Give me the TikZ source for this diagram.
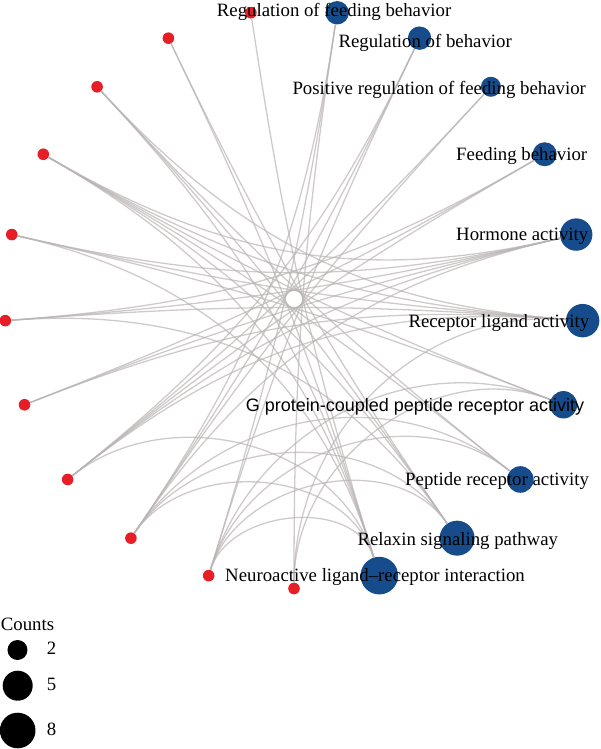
\documentclass[tikz,border=0pt]{standalone}
\usepackage{fontspec}
\setmainfont{Liberation Serif}
\newfontfamily\labelsans{Liberation Sans}
\definecolor{genered}{RGB}{230,30,38}
\definecolor{termblue}{RGB}{22,76,140}
\definecolor{edgegray}{RGB}{185,180,180}

\begin{document}
\begin{tikzpicture}[x=1pt, y=1pt,
  gene/.style={circle, fill=genered, inner sep=0pt, minimum size=11.6pt},
  term/.style={circle, fill=termblue, inner sep=0pt},
  count/.style={circle, fill=black, inner sep=0pt},
  edge/.style={draw=edgegray, line width=1.3pt, draw opacity=0.7},
  lab/.style={anchor=base west, inner sep=0pt, font=\fontsize{18.8}{22}\selectfont}]

\useasboundingbox (-294, -450) rectangle (306, 299);

% genes, on the left half of the circle
\node[gene] (g1) at (98.57:289.5) {};
\node[gene] (g2) at (115.71:289.5) {};
\node[gene] (g3) at (132.86:289.5) {};
\node[gene] (g4) at (150:289.5) {};
\node[gene] (g5) at (167.14:289.5) {};
\node[gene] (g6) at (184.29:289.5) {};
\node[gene] (g7) at (201.43:289.5) {};
\node[gene] (g8) at (218.57:289.5) {};
\node[gene] (g9) at (235.71:289.5) {};
\node[gene] (g10) at (252.86:289.5) {};
\node[gene] (g11) at (270:289.5) {};

% terms, on the right half
\node[term, minimum size=23.4pt] (t1) at (81.43:289.5) {};
\node[term, minimum size=23.4pt] (t2) at (64.29:289.5) {};
\node[term, minimum size=20pt] (t3) at (47.14:289.5) {};
\node[term, minimum size=24pt] (t4) at (30:289.5) {};
\node[term, minimum size=32.4pt] (t5) at (12.86:289.5) {};
\node[term, minimum size=33.4pt] (t6) at (-4.29:289.5) {};
\node[term, minimum size=27.4pt] (t7) at (-21.43:289.5) {};
\node[term, minimum size=26.6pt] (t8) at (-38.57:289.5) {};
\node[term, minimum size=35pt] (t9) at (-55.71:289.5) {};
\node[term, minimum size=37.6pt] (t10) at (-72.86:289.5) {};

% edges
\draw[edge] (g1) to[out=-81.4, in=107.1] (t10);
\draw[edge] (g2) to[out=-64.3, in=107.1] (t10);
\draw[edge] (g2) to[out=-64.3, in=124.3] (t9);
\draw[edge] (g3) to[out=-47.1, in=107.1] (t10);
\draw[edge] (g3) to[out=-47.1, in=124.3] (t9);
\draw[edge] (g3) to[out=-47.1, in=141.4] (t8);
\draw[edge] (g3) to[out=-47.1, in=175.7] (t6);
\draw[edge] (g4) to[out=-30, in=107.1] (t10);
\draw[edge] (g4) to[out=-30, in=124.3] (t9);
\draw[edge] (g4) to[out=-30, in=141.4] (t8);
\draw[edge] (g4) to[out=-30, in=158.6] (t7);
\draw[edge] (g4) to[out=-30, in=175.7] (t6);
\draw[edge] (g4) to[out=-30, in=-167.1] (t5);
\draw[edge] (g5) to[out=-12.9, in=107.1] (t10);
\draw[edge] (g5) to[out=-12.9, in=158.6] (t7);
\draw[edge] (g5) to[out=-12.9, in=175.7] (t6);
\draw[edge] (g5) to[out=-12.9, in=-167.1] (t5);
\draw[edge] (g6) to[out=4.3, in=124.3] (t9);
\draw[edge] (g6) to[out=4.3, in=175.7] (t6);
\draw[edge] (g6) to[out=4.3, in=-167.1] (t5);
\draw[edge] (g6) to[out=4.3, in=-150] (t4);
\draw[edge] (g7) to[out=21.4, in=175.7] (t6);
\draw[edge] (g7) to[out=21.4, in=-167.1] (t5);
\draw[edge] (g7) to[out=21.4, in=-150] (t4);
\draw[edge] (g8) to[out=38.6, in=107.1] (t10);
\draw[edge] (g8) to[out=38.6, in=175.7] (t6);
\draw[edge] (g8) to[out=38.6, in=-167.1] (t5);
\draw[edge] (g8) to[out=38.6, in=-150] (t4);
\draw[edge] (g8) to[out=38.6, in=-132.9] (t3);
\draw[edge] (g8) to[out=38.6, in=-115.7] (t2);
\draw[edge] (g9) to[out=55.7, in=107.1] (t10);
\draw[edge] (g9) to[out=55.7, in=124.3] (t9);
\draw[edge] (g9) to[out=55.7, in=141.4] (t8);
\draw[edge] (g9) to[out=55.7, in=-167.1] (t5);
\draw[edge] (g9) to[out=55.7, in=-132.9] (t3);
\draw[edge] (g9) to[out=55.7, in=-115.7] (t2);
\draw[edge] (g9) to[out=55.7, in=-98.6] (t1);
\draw[edge] (g10) to[out=72.9, in=107.1] (t10);
\draw[edge] (g10) to[out=72.9, in=124.3] (t9);
\draw[edge] (g10) to[out=72.9, in=141.4] (t8);
\draw[edge] (g10) to[out=72.9, in=158.6] (t7);
\draw[edge] (g10) to[out=72.9, in=-115.7] (t2);
\draw[edge] (g10) to[out=72.9, in=-98.6] (t1);
\draw[edge] (g11) to[out=90, in=158.6] (t7);
\draw[edge] (g11) to[out=90, in=175.7] (t6);
\draw[edge] (g11) to[out=90, in=-98.6] (t1);

% labels of the terms
\node[lab] (l1) at (-77.3, 282.3) {Regulation of feeding behavior};
\node[lab] (l2) at (44.3, 251.3) {Regulation of behavior};
\node[lab] (l3) at (-1.7, 204.7) {Positive regulation of feeding behavior};
\node[lab] (l4) at (162, 138.3) {Feeding behavior};
\node[lab] (l5) at (162, 58.3) {Hormone activity};
\node[lab] (l6) at (114.3, -28.7) {Receptor ligand activity};
\node[lab, font=\labelsans\fontsize{18}{22}\selectfont] (l7) at (-48.3, -112.7) {G protein-coupled peptide receptor activity};
\node[lab] (l8) at (111, -186.7) {Peptide receptor activity};
\node[lab] (l9) at (63.3, -246) {Relaxin signaling pathway};
\node[lab] (l10) at (-69, -282.7) {Neuroactive ligand--receptor interaction};

% legend
\node[lab] (counts) at (-293.3, -331) {Counts};
\node[count, minimum size=20pt] (c2) at (-276.5, -351) {};
\node[count, minimum size=30pt] (c5) at (-276.3, -386.7) {};
\node[count, minimum size=35.6pt] (c8) at (-276.3, -431.5) {};
\node[lab] (n2) at (-247.3, -355) {2};
\node[lab] (n5) at (-247.3, -391.7) {5};
\node[lab] (n8) at (-247.3, -436) {8};

\end{tikzpicture}
\end{document}
